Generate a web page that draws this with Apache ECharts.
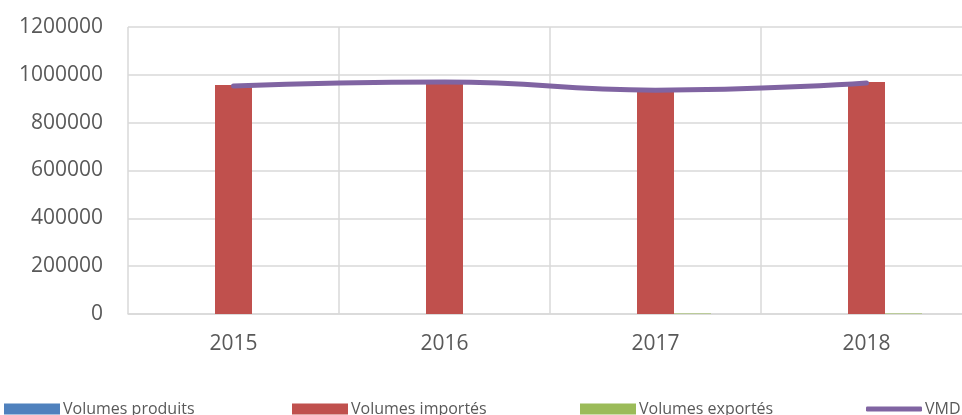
<!DOCTYPE html>
<html>
<head>
<meta charset="utf-8">
<title>VMD</title>
<script src="https://cdn.jsdelivr.net/npm/echarts@6/dist/echarts.min.js"></script>
<style>
  html, body { margin: 0; padding: 0; background: #fff; overflow: hidden; }
  #main { width: 972px; height: 415px; }
</style>
</head>
<body>
<div id="main"></div>
<script>
// donnees
var years = ['2015', '2016', '2017', '2018'];
var produits = [0, 0, 0, 0];
var importes = [957000, 970000, 928000, 970000];
var exportes = [0, 0, 2000, 2000];
var vmd = [953000, 970000, 936000, 966000];

var legendNames = ['Volumes produits', 'Volumes importés', 'Volumes exportés', 'VMD'];
var legendLeft = [4, 292, 580, 866];

var txt = '#595959';
var font = 'Open Sans';

var myChart = echarts.init(document.getElementById('main'));

// une legende par element pour garder l'espacement d'origine
var legends = [];
for (var i = 0; i < legendNames.length; i++) {
    legends.push({
        data: [{ name: legendNames[i], icon: i == 3 ? 'roundRect' : 'rect' }],
        left: legendLeft[i],
        top: 401,
        itemWidth: 56,
        itemHeight: i == 3 ? 5 : 11,
        itemGap: 0,
        padding: 0,
        textStyle: { color: txt, fontFamily: font, fontSize: 16, padding: [0, 0, 0, -2] },
        selectedMode: false
    });
}

var option = {
    animation: false,
    legend: legends,
    grid: { left: 128, top: 27, right: 0, height: 287 },
    xAxis: {
        type: 'category',
        data: years,
        axisLine: { lineStyle: { color: '#d9d9d9', width: 1.5 } },
        axisTick: { show: false },
        splitLine: { show: true, lineStyle: { color: '#d9d9d9', width: 1.5 } },
        axisLabel: { color: txt, fontFamily: font, fontSize: 21, margin: 20 }
    },
    yAxis: {
        type: 'value',
        min: 0,
        max: 1200000,
        interval: 200000,
        axisLine: { show: false },
        axisTick: { show: false },
        splitLine: { lineStyle: { color: '#d9d9d9', width: 1.5 } },
        axisLabel: { color: txt, fontFamily: font, fontSize: 21, margin: 25,
                     formatter: function (v) { return String(v); } }
    },
    series: [
        { name: 'Volumes produits', type: 'bar', data: produits, barWidth: 37, barGap: '0%',
          itemStyle: { color: '#4f81bd' } },
        { name: 'Volumes importés', type: 'bar', data: importes, barWidth: 37, barGap: '0%',
          itemStyle: { color: '#c0504d' } },
        { name: 'Volumes exportés', type: 'bar', data: exportes, barWidth: 37, barGap: '0%',
          itemStyle: { color: '#9bbb59' } },
        { name: 'VMD', type: 'line', data: vmd, smooth: 0.5, symbol: 'none',
          lineStyle: { color: '#8064a2', width: 5, cap: 'round' },
          itemStyle: { color: '#8064a2' } }
    ]
};
myChart.setOption(option);
</script>
</body>
</html>
